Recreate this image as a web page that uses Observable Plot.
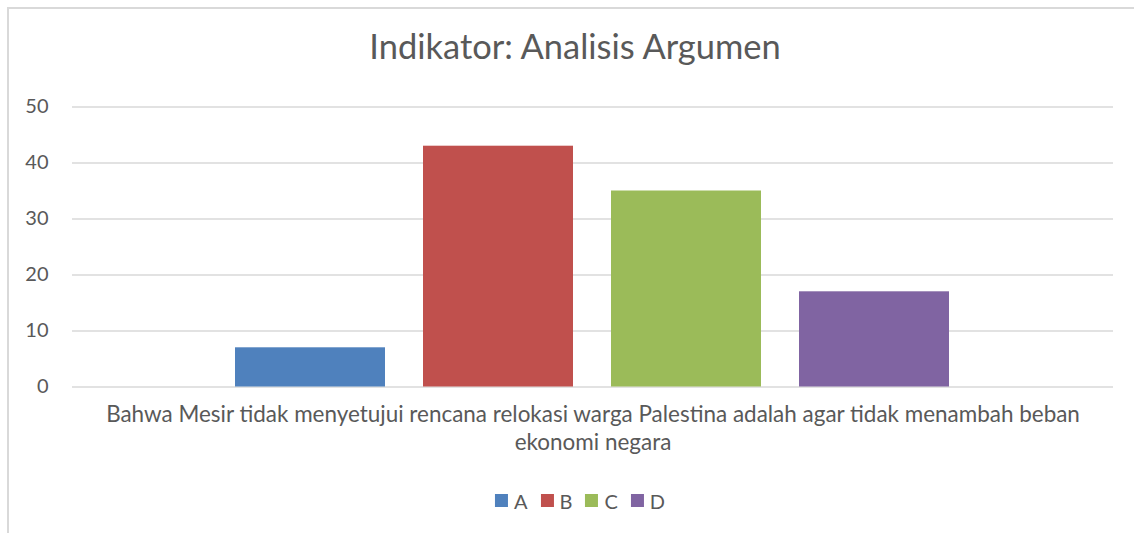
<!DOCTYPE html>
<html><head><meta charset="utf-8">
<script src="https://cdn.jsdelivr.net/npm/d3@7"></script>
<script src="https://cdn.jsdelivr.net/npm/@observablehq/plot@0.6"></script>
<style>
html,body{margin:0;padding:0;background:#fff;overflow:hidden;width:1134px;height:533px;}
body{position:relative;font-family:Lato,sans-serif;color:#595959;}
#frame{position:absolute;left:7px;top:7px;width:1200px;height:600px;border-left:2px solid #d9d9d9;border-top:2px solid #d9d9d9;box-sizing:border-box;}
#title{position:absolute;white-space:nowrap;line-height:1;transform:translateX(-50%);font-family:Lato,sans-serif;color:#595959;}
#chart{position:absolute;left:0;top:90px;}
#legend{position:absolute;display:flex;align-items:center;transform:translateX(-50%);white-space:nowrap;line-height:1;font-family:Lato,sans-serif;color:#595959;}
.item{display:flex;align-items:center;margin-right:13px;}
.item:last-child{margin-right:0;}
.sw{width:13px;height:13px;margin-right:6px;}
</style></head>
<body>
<div id="frame"></div>
<div id="title"></div>
<div id="chart"></div>
<div id="legend"></div>
<script>
const title = "Indikator: Analisis Argumen";
const category = ["Bahwa Mesir tidak menyetujui rencana relokasi warga Palestina adalah agar tidak menambah beban ekonomi negara"];
const series = ["A", "B", "C", "D"];
const values = [7, 43, 35, 17];
const colors = ["#4f81bd", "#c0504d", "#9bbb59", "#8064a2"];
const yTicks = [0, 10, 20, 30, 40, 50];

const data = series.map((s, i) => ({category: category[0], series: s, value: values[i]}));

const ctx = document.createElement("canvas").getContext("2d");
function textWidth(s, size) { ctx.font = `${size}px Lato`; return ctx.measureText(s).width; }
function wrap(s, size, maxW) {
  const words = s.split(" ");
  const lines = [];
  let cur = "";
  for (const w of words) {
    const t = cur ? cur + " " + w : w;
    if (cur && textWidth(t, size) > maxW) { lines.push(cur); cur = w; }
    else cur = t;
  }
  if (cur) lines.push(cur);
  return lines.join("\n");
}

// title
const titleSize = 100 * 414 / textWidth(title, 100);
const tEl = document.getElementById("title");
tEl.textContent = title;
tEl.style.fontSize = titleSize + "px";
tEl.style.left = "575px";
tEl.style.top = (57 - 0.805 * titleSize) + "px";

// chart
const W = 1134, H = 380, top0 = 90;
const mL = 72, mR = W - 1113, mT = 106.5 - top0, mB = H - (386.5 - top0);
const catSize = 100 * 1138 / textWidth(category[0], 100);
const lineH = 28;

const chart = Plot.plot({
  width: W,
  height: H,
  marginLeft: mL,
  marginRight: mR,
  marginTop: mT,
  marginBottom: mB,
  style: {fontFamily: "Lato, sans-serif", color: "#595959", background: "transparent"},
  fx: {domain: category, padding: 0, axis: null},
  x: {domain: series, paddingInner: 0.202, paddingOuter: 0.86, axis: null},
  y: {domain: [0, 50], axis: null},
  color: {domain: series, range: colors},
  marks: [
    Plot.gridY(yTicks, {stroke: "#d9d9d9", strokeOpacity: 1, strokeWidth: 1.5}),
    Plot.barY(data, {fx: "category", x: "series", y: "value", fill: "series"}),
    Plot.axisY(yTicks, {tickSize: 0, tickPadding: 24, fontSize: 20, fill: "#595959", label: null}),
    Plot.axisFx({anchor: "bottom", tickSize: 0, tickPadding: 418 - 386.5 - 0.71 * catSize,
      fontSize: catSize, lineHeight: lineH / catSize, fill: "#595959", label: null,
      tickFormat: d => wrap(d, catSize, 1041)})
  ]
});
document.getElementById("chart").appendChild(chart);

// legend
const lg = document.getElementById("legend");
lg.style.fontSize = "20px";
series.forEach((s, i) => {
  const it = document.createElement("div");
  it.className = "item";
  const sw = document.createElement("div");
  sw.className = "sw";
  sw.style.background = colors[i];
  const lb = document.createElement("span");
  lb.textContent = s;
  it.appendChild(sw); it.appendChild(lb);
  lg.appendChild(it);
});
lg.style.left = "580px";
lg.style.top = (500.5 - 10) + "px";
</script>
</body></html>
